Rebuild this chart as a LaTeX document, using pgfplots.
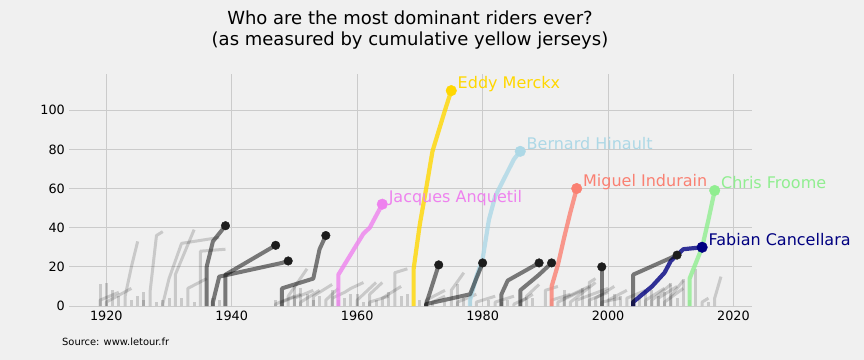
\documentclass[border=0pt]{standalone}
\usepackage{fontspec}
\setmainfont{DejaVu Sans}
\usepackage{pgfplots}
\pgfplotsset{compat=1.18}
\definecolor{bgc}{HTML}{F0F0F0}
\definecolor{gridc}{HTML}{CBCBCB}
\definecolor{cgold}{HTML}{FFD700}
\definecolor{clblue}{HTML}{ADD8E6}
\definecolor{csalmon}{HTML}{FA8072}
\definecolor{clgreen}{HTML}{90EE90}
\definecolor{cnavy}{HTML}{000080}
\definecolor{cviolet}{HTML}{EE82EE}
\definecolor{dotc}{HTML}{1D1D1D}
\pgfplotsset{
 lg/.style={black, draw opacity=0.16, line width=3bp, line join=round, mark=none},
 dg/.style={black, draw opacity=0.5, line width=4bp, line join=round, mark=none},
 hl/.style={line width=4.2bp, line join=round, draw opacity=0.8, mark=none},
}
\tikzset{nm/.style={anchor=base west, inner sep=0pt, yshift=2bp, font=\fontsize{16bp}{19bp}\selectfont}}
\begin{document}
\begin{tikzpicture}
\fill[bgc] (0,0) rectangle (864bp,360bp);
\begin{axis}[
 at={(69bp,54bp)}, anchor=south west,
 width=683bp, height=232bp, scale only axis,
 xmin=1914.05, xmax=2022.95, ymin=0, ymax=118.5,
 axis line style={draw=none},
 major tick length=0pt,
 xtick={1920,1940,...,2020}, ytick={0,20,...,100},
 grid=major, major grid style={color=gridc, line width=1bp},
 ticklabel style={font=\fontsize{12.8bp}{15bp}\selectfont, text=black},
 /pgf/number format/assume math mode=true,
 x tick label style={/pgf/number format/1000 sep={}, inner sep=0pt, anchor=north, yshift=-4.5bp},
 y tick label style={inner sep=0pt, anchor=east, xshift=-4bp},
 clip=false,
]
% light grey riders
\addplot[lg] coordinates {(1919,0)(1919,11)};
\addplot[lg] coordinates {(1919,0)(1919,3)(1922,7)};
\addplot[lg] coordinates {(1920,0)(1920,12)};
\addplot[lg] coordinates {(1920,0)(1920,2)(1924,9)};
\addplot[lg] coordinates {(1921,0)(1921,8)};
\addplot[lg] coordinates {(1922,0)(1922,5)};
\addplot[lg] coordinates {(1923,0)(1923,5)(1924,20)(1925,33)};
\addplot[lg] coordinates {(1924,0)(1924,3)};
\addplot[lg] coordinates {(1925,0)(1925,5)};
\addplot[lg] coordinates {(1926,0)(1926,7)};
\addplot[lg] coordinates {(1926,0)(1926,3)};
\addplot[lg] coordinates {(1927,0)(1927,8)(1928,36)(1929,38)};
\addplot[lg] coordinates {(1928,0)(1928,2)};
\addplot[lg] coordinates {(1929,0)(1929,3)};
\addplot[lg] coordinates {(1929,0)(1929,1)(1930,14)(1932,32)(1938,35)};
\addplot[lg] coordinates {(1931,0)(1931,16)(1934,39)};
\addplot[lg] coordinates {(1930,0)(1930,4)};
\addplot[lg] coordinates {(1932,0)(1932,4)};
\addplot[lg] coordinates {(1933,0)(1933,9)(1936,14)};
\addplot[lg] coordinates {(1935,0)(1935,28)(1939,29)};
\addplot[lg] coordinates {(1934,0)(1934,2)};
\addplot[lg] coordinates {(1937,0)(1937,4)};
\addplot[lg] coordinates {(1938,0)(1938,3)};
\addplot[lg] coordinates {(1947,0)(1947,1)(1950,5)};
\addplot[lg] coordinates {(1947,0)(1947,3)};
\addplot[lg] coordinates {(1948,0)(1948,2)(1951,6)};
\addplot[lg] coordinates {(1949,0)(1949,5)(1952,19)};
\addplot[lg] coordinates {(1950,0)(1950,10)};
\addplot[lg] coordinates {(1951,0)(1951,9)};
\addplot[lg] coordinates {(1951,0)(1951,2)(1954,8)};
\addplot[lg] coordinates {(1950,0)(1950,4)(1953,8)};
\addplot[lg] coordinates {(1953,0)(1953,3)};
\addplot[lg] coordinates {(1953,0)(1953,5)(1956,11)};
\addplot[lg] coordinates {(1954,0)(1954,5)};
\addplot[lg] coordinates {(1955,0)(1955,3)(1957,9)};
\addplot[lg] coordinates {(1956,0)(1956,8)};
\addplot[lg] coordinates {(1952,0)(1952,6)};
\addplot[lg] coordinates {(1956,0)(1956,4)(1958,7)(1959,9)(1961,12)};
\addplot[lg] coordinates {(1957,0)(1957,3)};
\addplot[lg] coordinates {(1958,0)(1958,4)};
\addplot[lg] coordinates {(1959,0)(1959,6)};
\addplot[lg] coordinates {(1960,0)(1960,3)(1963,12)};
\addplot[lg] coordinates {(1960,0)(1960,6)};
\addplot[lg] coordinates {(1962,0)(1962,6)(1964,12)};
\addplot[lg] coordinates {(1962,0)(1962,2)(1965,5)};
\addplot[lg] coordinates {(1964,0)(1964,4)(1967,10)};
\addplot[lg] coordinates {(1966,0)(1966,17)(1968,19)};
\addplot[lg] coordinates {(1965,0)(1965,7)};
\addplot[lg] coordinates {(1967,0)(1967,5)};
\addplot[lg] coordinates {(1968,0)(1968,6)};
\addplot[lg] coordinates {(1963,0)(1963,3)};
\addplot[lg] coordinates {(1961,0)(1961,2)};
\addplot[lg] coordinates {(1970,0)(1970,3)};
\addplot[lg] coordinates {(1971,0)(1971,3)(1974,8)};
\addplot[lg] coordinates {(1972,0)(1972,2)(1974,5)};
\addplot[lg] coordinates {(1974,0)(1974,2)};
\addplot[lg] coordinates {(1975,0)(1975,8)(1977,17)};
\addplot[lg] coordinates {(1976,0)(1976,11)};
\addplot[lg] coordinates {(1976,0)(1976,2)(1979,6)};
\addplot[lg] coordinates {(1977,0)(1977,4)};
\addplot[lg] coordinates {(1978,0)(1978,5)};
\addplot[lg] coordinates {(1979,0)(1979,2)(1982,5)};
\addplot[lg] coordinates {(1981,0)(1981,3)};
\addplot[lg] coordinates {(1982,0)(1982,2)(1985,5)};
\addplot[lg] coordinates {(1984,0)(1984,3)};
\addplot[lg] coordinates {(1986,0)(1986,2)(1988,6)};
\addplot[lg] coordinates {(1987,0)(1987,5)(1989,11)};
\addplot[lg] coordinates {(1988,0)(1988,4)};
\addplot[lg] coordinates {(1990,0)(1990,8)(1992,10)};
\addplot[lg] coordinates {(1983,0)(1983,2)};
\addplot[lg] coordinates {(1985,0)(1985,1)(1987,4)};
\addplot[lg] coordinates {(1991,0)(1991,3)(1994,6)};
\addplot[lg] coordinates {(1992,0)(1992,2)(1996,8)};
\addplot[lg] coordinates {(1993,0)(1993,4)(1997,10)};
\addplot[lg] coordinates {(1993,0)(1993,8)};
\addplot[lg] coordinates {(1994,0)(1994,2)(1998,12)};
\addplot[lg] coordinates {(1996,0)(1996,9)};
\addplot[lg] coordinates {(1997,0)(1997,12)(1998,14)};
\addplot[lg] coordinates {(1997,0)(1997,3)(2000,7)};
\addplot[lg] coordinates {(1995,0)(1995,3)(2000,9)};
\addplot[lg] coordinates {(1998,0)(1998,4)(2001,10)};
\addplot[lg] coordinates {(2000,0)(2000,3)(2003,8)};
\addplot[lg] coordinates {(2001,0)(2001,6)};
\addplot[lg] coordinates {(2002,0)(2002,5)};
\addplot[lg] coordinates {(2003,0)(2003,4)(2006,8)};
\addplot[lg] coordinates {(1999,0)(1999,2)(2002,4)};
\addplot[lg] coordinates {(2005,0)(2005,4)};
\addplot[lg] coordinates {(2006,0)(2006,8)};
\addplot[lg] coordinates {(2007,0)(2007,8)};
\addplot[lg] coordinates {(2007,0)(2007,3)(2010,11)};
\addplot[lg] coordinates {(2008,0)(2008,5)};
\addplot[lg] coordinates {(2009,0)(2009,7)};
\addplot[lg] coordinates {(2010,0)(2010,12)};
\addplot[lg] coordinates {(2010,0)(2010,5)(2012,13)};
\addplot[lg] coordinates {(2011,0)(2011,4)};
\addplot[lg] coordinates {(2012,0)(2012,14)};
\addplot[lg] coordinates {(2013,0)(2013,3)};
\addplot[lg] coordinates {(2014,0)(2014,19)};
\addplot[lg] coordinates {(2017,0)(2017,4)(2018,15)};
\addplot[lg] coordinates {(2015,0)(2015,2)(2016,4)};
\addplot[lg] coordinates {(2016,0)(2016,2)};
\addplot[lg] coordinates {(2006,0)(2006,3)(2009,9)};
\addplot[lg] coordinates {(2008,0)(2008,4)(2011,10)};
\addplot[lg] coordinates {(2009,0)(2009,2)(2012,9)};
% highlighted riders
\addplot[hl, color=cviolet] coordinates {(1957,0)(1957,16)(1961,37)(1962,40)(1963,46)(1964,52)};
\addplot[hl, color=cgold] coordinates {(1969,0)(1969,19)(1970,42)(1971,60)(1972,79)(1974,100)(1975,110)};
\addplot[hl, color=clblue] coordinates {(1978,0)(1978,3)(1979,15)(1980,24)(1981,44)(1982,56)(1985,75)(1986,79)};
\addplot[hl, color=csalmon] coordinates {(1991,0)(1991,10)(1992,21)(1993,35)(1994,48)(1995,60)};
\addplot[hl, color=cnavy] coordinates {(2004,0)(2004,2)(2007,10)(2009,17)(2010,23)(2012,29)(2015,30)};
\addplot[hl, color=clgreen] coordinates {(2013,0)(2013,14)(2015,30)(2016,44)(2017,59)};
% dark grey riders
\addplot[dg] coordinates {(1936,0)(1936,20)(1937,33)(1939,41)};
\addplot[dg] coordinates {(1939,0)(1939,16)(1947,31)};
\addplot[dg] coordinates {(1937,0)(1937,2)(1938,15)(1948,22)(1949,23)};
\addplot[dg] coordinates {(1948,0)(1948,9)(1953,14)(1954,29)(1955,36)};
\addplot[dg] coordinates {(1971,0)(1971,1)(1973,21)};
\addplot[dg] coordinates {(1971,0)(1971,1)(1978,6)(1980,22)};
\addplot[dg] coordinates {(1983,0)(1983,6)(1984,13)(1989,22)};
\addplot[dg] coordinates {(1986,0)(1986,8)(1989,16)(1990,19)(1991,22)};
\addplot[dg] coordinates {(1999,0)(1999,20)};
\addplot[dg] coordinates {(2004,0)(2004,16)(2011,26)};
% end dots
\addplot[only marks, mark=*, mark size=4.3bp, color=dotc] coordinates {(1939,41)(1947,31)(1949,23)(1955,36)(1973,21)(1980,22)(1989,22)(1991,22)(1999,20)(2011,26)};
\addplot[only marks, mark=*, mark size=5.3bp, color=cviolet] coordinates {(1964,52)};
\addplot[only marks, mark=*, mark size=5.3bp, color=cgold] coordinates {(1975,110)};
\addplot[only marks, mark=*, mark size=5.3bp, color=clblue] coordinates {(1986,79)};
\addplot[only marks, mark=*, mark size=5.3bp, color=csalmon] coordinates {(1995,60)};
\addplot[only marks, mark=*, mark size=5.3bp, color=cnavy] coordinates {(2015,30)};
\addplot[only marks, mark=*, mark size=5.3bp, color=clgreen] coordinates {(2017,59)};
% names
\node[nm, text=cgold] at (axis cs:1976,110) {Eddy Merckx};
\node[nm, text=clblue] at (axis cs:1987,79) {Bernard Hinault};
\node[nm, text=csalmon] at (axis cs:1996,60) {Miguel Indurain};
\node[nm, text=clgreen] at (axis cs:2018,59) {Chris Froome};
\node[nm, text=cnavy] at (axis cs:2016,30) {Fabian Cancellara};
\node[nm, text=cviolet] at (axis cs:1965,52) {Jacques Anquetil};
\end{axis}
\node[anchor=base, inner sep=0pt, font=\fontsize{18bp}{21bp}\selectfont] at (410bp,335.5bp) {Who are the most dominant riders ever?};
\node[anchor=base, inner sep=0pt, font=\fontsize{18bp}{21bp}\selectfont] at (410bp,314.5bp) {(as measured by cumulative yellow jerseys)};
\node[anchor=base west, inner sep=0pt, font=\fontsize{9.9bp}{12bp}\selectfont] at (62bp,14.5bp) {Source: www.letour.fr};
\end{tikzpicture}
\end{document}
